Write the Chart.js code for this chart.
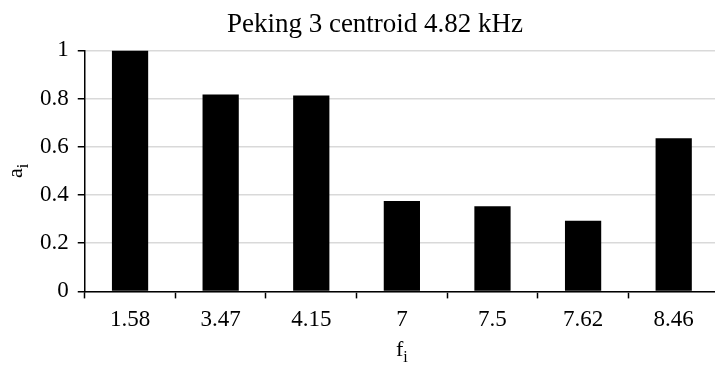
<!DOCTYPE html>
<html>
<head>
<meta charset="utf-8">
<script src="https://cdn.jsdelivr.net/npm/chart.js@4/dist/chart.umd.min.js"></script>
<style>
  html, body { margin: 0; padding: 0; background: #fff; }
  #wrap { width: 715px; height: 367px; overflow: hidden; }
</style>
</head>
<body>
<div id="wrap"><canvas id="spectrum" width="751" height="367"></canvas></div>
<script>
const frequencies = ['1.58', '3.47', '4.15', '7', '7.5', '7.62', '8.46'];
const amplitudes = [1.0, 0.817, 0.813, 0.375, 0.353, 0.293, 0.635];
const yTicks = [0, 0.2, 0.4, 0.6, 0.8, 1];

const chartTitle = 'Peking 3 centroid 4.82 kHz';
const xTitle = ['f', 'i'];
const yTitle = ['a', 'i'];

const serif = '"Liberation Serif", "Times New Roman", serif';

// axis titles with a subscript, drawn after the chart
const subscriptTitles = {
  id: 'subscriptTitles',
  afterDraw(chart) {
    const { ctx, chartArea } = chart;
    const drawSub = (parts, x, y) => {
      ctx.font = '22px ' + serif;
      const w1 = ctx.measureText(parts[0]).width;
      ctx.font = '16px ' + serif;
      const w2 = ctx.measureText(parts[1]).width;
      const start = x - (w1 + w2) / 2;
      ctx.textAlign = 'left';
      ctx.textBaseline = 'alphabetic';
      ctx.font = '22px ' + serif;
      ctx.fillText(parts[0], start, y);
      ctx.font = '16px ' + serif;
      ctx.fillText(parts[1], start + w1, y + 6);
    };
    ctx.save();
    ctx.fillStyle = '#000';
    drawSub(xTitle, (chartArea.left + chartArea.right) / 2, chartArea.bottom + 65);
    ctx.translate(22, (chartArea.top + chartArea.bottom) / 2);
    ctx.rotate(-Math.PI / 2);
    drawSub(yTitle, 0, 0);
    ctx.restore();
  }
};

new Chart(document.getElementById('spectrum').getContext('2d'), {
  type: 'bar',
  data: {
    labels: frequencies,
    datasets: [{
      data: amplitudes,
      backgroundColor: '#000',
      borderWidth: 0,
      categoryPercentage: 1,
      barPercentage: 0.4
    }]
  },
  options: {
    responsive: false,
    animation: false,
    layout: { padding: { left: 31, right: 32, top: 0, bottom: 25 } },
    plugins: {
      legend: { display: false },
      tooltip: { enabled: false },
      title: {
        display: true,
        text: chartTitle,
        color: '#000',
        font: { family: serif, size: 27, weight: 'normal' },
        padding: { top: 9, bottom: 9 }
      }
    },
    scales: {
      x: {
        grid: {
          offset: true,
          drawOnChartArea: false,
          drawTicks: true,
          tickLength: 7,
          tickColor: '#000',
          tickWidth: 1.5
        },
        border: { display: true, color: '#000', width: 1.5 },
        ticks: {
          color: '#000',
          font: { family: serif, size: 23 },
          padding: 8,
          maxRotation: 0
        }
      },
      y: {
        min: 0,
        max: 1,
        afterBuildTicks(scale) {
          scale.ticks = yTicks.map(v => ({ value: v }));
        },
        grid: {
          color: '#d9d9d9',
          lineWidth: 1.5,
          tickLength: 7,
          tickColor: '#000',
          tickWidth: 1.5
        },
        border: { display: true, color: '#000', width: 1.5 },
        ticks: {
          color: '#000',
          font: { family: serif, size: 23 },
          padding: 9,
          callback: v => String(v)
        }
      }
    }
  },
  plugins: [subscriptTitles]
});
</script>
</body>
</html>
